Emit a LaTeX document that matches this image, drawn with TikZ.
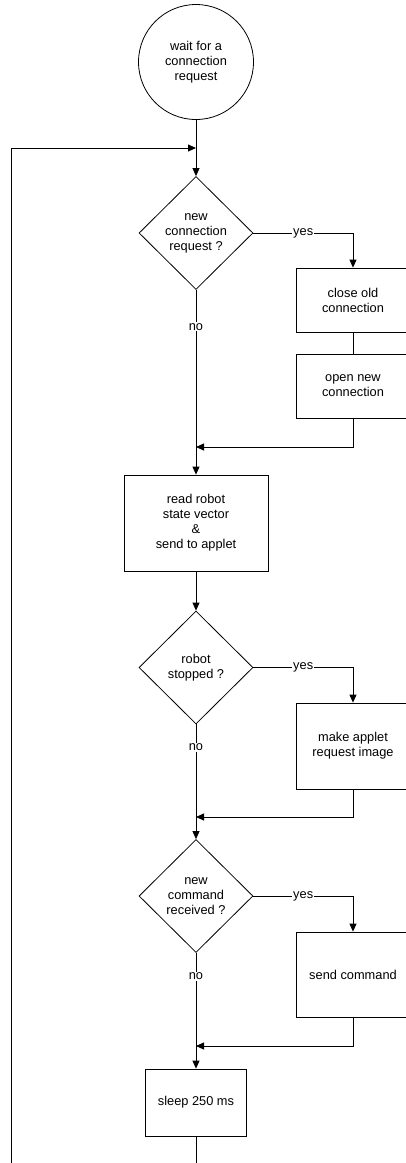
\documentclass[tikz,border=0pt]{standalone}
\usepackage{fontspec}
\setmainfont{Liberation Sans}
\usepackage{tikz}
\usetikzlibrary{arrows.meta,shapes.geometric,calc}
\tikzstyle{proc}=[rectangle, draw, inner sep=0pt, align=center, line width=0.8pt]
\tikzstyle{test}=[diamond, draw, inner sep=0pt, align=center,% the decisions
minimum width=114pt, minimum height=113pt, line width=0.8pt]
\tikzstyle{wait}=[circle, draw, inner sep=0pt, align=center, minimum size=115pt, line width=0.8pt]
\tikzstyle{flow}=[-{Triangle[length=8pt,width=7pt]}, line width=0.8pt]
\tikzstyle{lbl}=[fill=white, inner sep=1pt]

\begin{document}
\begin{tikzpicture}[x=1pt,y=-1pt,font=\fontsize{12.8}{15}\selectfont]
\useasboundingbox (0,0) rectangle (405,1163);
\node[wait] (start) at (196,62) {wait for a\\connection\\request};
\node[test] (newreq) at (196,233) {new\\connection\\request ?};
\node[proc, minimum width=114pt, minimum height=64pt] (close) at (353,300) {close old\\connection};
\node[proc, minimum width=114pt, minimum height=64pt] (open) at (353,386) {open new\\connection};
\node[proc, minimum width=144pt, minimum height=96pt] (read) at (196,523) {read robot\\state vector\\\&\\send to applet};
\node[test] (stopped) at (196,667.5) {robot\\stopped ?};
\node[proc, minimum width=114pt, minimum height=86pt] (image) at (353,746) {make applet\\request image};
\node[test] (newcmd) at (196,896) {new\\command\\received ?};
\node[proc, minimum width=114pt, minimum height=85pt] (send) at (353,974.5) {send command};
\node[proc, minimum width=101pt, minimum height=67pt] (sleep) at (196,1102.5) {sleep 250 ms};
\coordinate (join) at (196,148);
\coordinate (m1) at (196,447);
\coordinate (m2) at (196,817);
\coordinate (m3) at (196,1046);
\coordinate (bot) at (196,1163);
\coordinate (lb) at (11,1163);
\coordinate (lt) at (11,148);
\draw[flow] (start) -- (newreq);
\draw[flow] (newreq.east) -| node[lbl, pos=0.25] {yes} (close.north);
\draw[line width=0.8pt] (close) -- (open);
\draw[flow] (open.south) |- (m1);
\draw[flow] (newreq.south) -- node[lbl, pos=0.2] {no} (read.north);
\draw[flow] (read) -- (stopped);
\draw[flow] (stopped.east) -| node[lbl, pos=0.25] {yes} (image.north);
\draw[flow] (image.south) |- (m2);
\draw[flow] (stopped.south) -- node[lbl, pos=0.2] {no} (newcmd.north);
\draw[flow] (newcmd.east) -| node[lbl, pos=0.25] {yes} (send.north);
\draw[flow] (send.south) |- (m3);
\draw[flow] (newcmd.south) -- node[lbl, pos=0.2] {no} (sleep.north);
\draw[line width=0.8pt] (sleep) -- (bot);
\draw[flow] (lb) -- (lt) -- (join);
\end{tikzpicture}
\end{document}
